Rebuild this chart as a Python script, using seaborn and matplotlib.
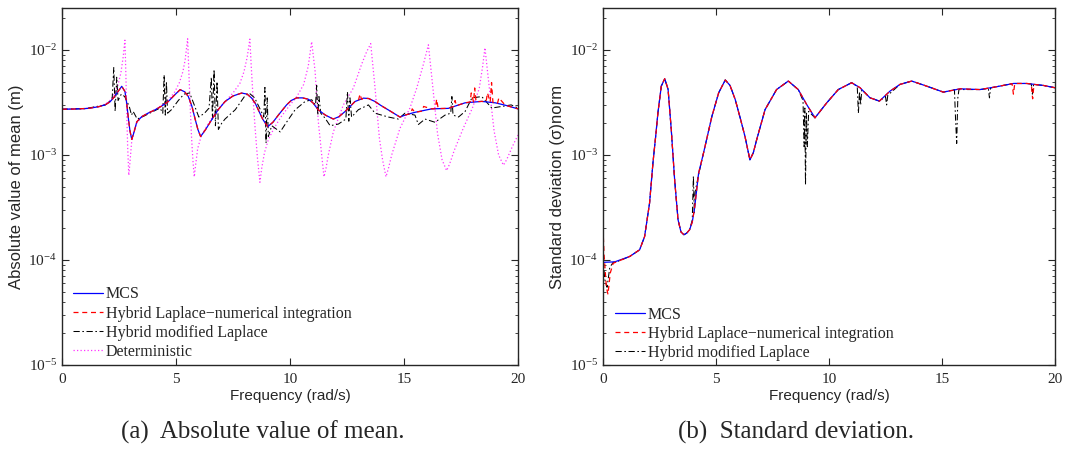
import numpy as np
import pandas as pd
import matplotlib
matplotlib.use("Agg")
import matplotlib.pyplot as plt
import matplotlib.ticker as mticker
import seaborn as sns

# ---------------- data: (a) absolute value of mean, (frequency, value) ----------------
mean_mcs = [(0, 2.73e-3), (0.5, 2.74e-3), (1.16, 2.78e-3), (1.6, 2.88e-3), (1.89, 3.0e-3),
            (2.1, 3.2e-3), (2.25, 3.48e-3), (2.45, 4.0e-3), (2.62, 4.51e-3), (2.76, 4.03e-3),
            (2.84, 3.1e-3), (2.91, 2.24e-3), (2.98, 1.7e-3), (3.06, 1.41e-3), (3.16, 1.65e-3),
            (3.28, 2.07e-3), (3.5, 2.32e-3), (3.8, 2.52e-3), (4.08, 2.69e-3), (4.4, 2.95e-3),
            (4.66, 3.23e-3), (4.95, 3.75e-3), (5.18, 4.19e-3), (5.38, 4.0e-3), (5.54, 3.61e-3),
            (5.7, 2.9e-3), (5.83, 2.24e-3), (5.96, 1.75e-3), (6.08, 1.5e-3), (6.3, 1.75e-3),
            (6.56, 2.16e-3), (6.85, 2.7e-3), (7.15, 3.23e-3), (7.5, 3.65e-3), (7.88, 3.89e-3),
            (8.12, 3.8e-3), (8.32, 3.48e-3), (8.48, 3.1e-3), (8.61, 2.69e-3), (8.8, 2.2e-3),
            (9.02, 1.86e-3), (9.25, 2.05e-3), (9.49, 2.4e-3), (9.85, 3.0e-3), (10.05, 3.3e-3),
            (10.29, 3.5e-3), (10.55, 3.5e-3), (10.8, 3.4e-3), (11.0, 3.15e-3), (11.24, 2.69e-3),
            (11.55, 2.4e-3), (11.9, 2.2e-3), (12.15, 2.32e-3), (12.41, 2.59e-3), (12.85, 3.23e-3),
            (13.22, 3.48e-3), (13.45, 3.45e-3), (13.73, 3.23e-3), (14.0, 2.95e-3), (14.31, 2.69e-3),
            (14.82, 2.3e-3), (15.1, 2.42e-3), (15.48, 2.55e-3), (16.21, 2.75e-3), (16.94, 2.78e-3),
            (17.3, 2.95e-3), (17.68, 3.14e-3), (18.41, 3.24e-3), (19.0, 3.14e-3), (19.44, 2.98e-3),
            (20, 2.75e-3)]

mean_hln = [(0, 2.73e-3), (0.5, 2.74e-3), (1.16, 2.78e-3), (1.6, 2.88e-3), (1.89, 3.0e-3),
            (2.1, 3.2e-3), (2.25, 3.48e-3), (2.45, 4.0e-3), (2.62, 4.51e-3), (2.76, 4.03e-3),
            (2.84, 3.1e-3), (2.91, 2.24e-3), (2.98, 1.7e-3), (3.06, 1.41e-3), (3.16, 1.65e-3),
            (3.28, 2.07e-3), (3.5, 2.32e-3), (3.8, 2.52e-3), (4.08, 2.69e-3), (4.4, 2.95e-3),
            (4.66, 3.23e-3), (4.95, 3.75e-3), (5.18, 4.19e-3), (5.38, 4.0e-3), (5.54, 3.61e-3),
            (5.7, 2.9e-3), (5.83, 2.24e-3), (5.96, 1.75e-3), (6.08, 1.5e-3), (6.3, 1.75e-3),
            (6.56, 2.16e-3), (6.85, 2.7e-3), (7.15, 3.23e-3), (7.5, 3.65e-3), (7.88, 3.89e-3),
            (8.12, 3.8e-3), (8.32, 3.48e-3), (8.48, 3.1e-3), (8.61, 2.69e-3), (8.8, 2.2e-3),
            (9.02, 1.86e-3), (9.25, 2.05e-3), (9.49, 2.4e-3), (9.85, 3.0e-3), (10.05, 3.3e-3),
            (10.29, 3.5e-3), (10.55, 3.5e-3), (10.8, 3.4e-3), (11.0, 3.15e-3), (11.24, 2.69e-3),
            (11.55, 2.4e-3), (11.9, 2.2e-3), (12.15, 2.32e-3), (12.41, 2.59e-3), (12.85, 3.23e-3),
            (13.0, 3.3e-3), (13.07, 3.8e-3), (13.14, 3.38e-3), (13.22, 3.48e-3), (13.45, 3.45e-3),
            (13.73, 3.23e-3), (14.0, 2.95e-3), (14.31, 2.69e-3), (14.82, 2.3e-3), (15.1, 2.42e-3),
            (15.3, 2.48e-3), (15.36, 2.75e-3), (15.48, 2.55e-3), (15.8, 2.62e-3), (15.86, 2.9e-3),
            (16.21, 2.75e-3), (16.38, 2.76e-3), (16.43, 3.4e-3), (16.5, 2.77e-3), (16.94, 2.78e-3),
            (17.18, 2.9e-3), (17.24, 3.3e-3), (17.3, 2.95e-3), (17.68, 3.14e-3), (17.9, 3.2e-3),
            (17.95, 3.9e-3), (18.05, 3.2e-3), (18.1, 4.35e-3), (18.16, 3.22e-3), (18.41, 3.24e-3),
            (18.6, 3.22e-3), (18.66, 3.9e-3), (18.78, 3.2e-3), (18.84, 4.9e-3), (18.9, 3.17e-3),
            (19.0, 3.14e-3), (19.1, 3.1e-3), (19.16, 3.5e-3), (19.44, 2.98e-3), (20, 2.75e-3)]

mean_hml = [(0, 2.73e-3), (1.0, 2.76e-3), (1.9, 3.0e-3), (2.2, 3.4e-3), (2.27, 6.8e-3),
            (2.33, 2.6e-3), (2.4, 5.5e-3), (2.46, 3.3e-3), (2.6, 3.8e-3), (2.75, 3.6e-3),
            (2.95, 2.9e-3), (3.05, 2.4e-3), (3.12, 2.6e-3), (3.3, 2.2e-3), (3.6, 2.35e-3),
            (4.0, 2.6e-3), (4.3, 2.8e-3), (4.42, 2.5e-3), (4.48, 5.8e-3), (4.53, 2.4e-3),
            (4.58, 5.0e-3), (4.63, 2.5e-3), (4.8, 2.7e-3), (5.1, 3.3e-3), (5.35, 3.8e-3),
            (5.6, 3.9e-3), (5.8, 3.0e-3), (6.0, 2.3e-3), (6.25, 2.5e-3), (6.45, 2.8e-3),
            (6.55, 5.5e-3), (6.6, 2.2e-3), (6.67, 6.5e-3), (6.73, 1.9e-3), (6.8, 5.0e-3),
            (6.86, 1.75e-3), (7.0, 2.0e-3), (7.15, 2.2e-3), (7.6, 2.7e-3), (8.0, 3.6e-3),
            (8.2, 3.9e-3), (8.45, 3.5e-3), (8.7, 2.7e-3), (8.85, 2.3e-3), (8.9, 4.4e-3),
            (8.95, 1.3e-3), (9.0, 3.5e-3), (9.05, 1.5e-3), (9.2, 1.9e-3), (9.57, 1.66e-3),
            (9.86, 2.07e-3), (10.22, 2.69e-3), (10.66, 3.23e-3), (10.95, 3.36e-3), (11.12, 3.0e-3),
            (11.17, 4.6e-3), (11.22, 2.4e-3), (11.27, 3.6e-3), (11.35, 2.5e-3), (11.54, 2.24e-3),
            (11.76, 1.9e-3), (12.12, 1.97e-3), (12.45, 2.2e-3), (12.52, 4.0e-3), (12.58, 2.1e-3),
            (12.63, 3.5e-3), (12.7, 2.3e-3), (13.0, 2.7e-3), (13.44, 3.0e-3), (13.73, 2.5e-3),
            (14.31, 2.3e-3), (14.75, 2.2e-3), (15.04, 2.5e-3), (15.48, 2.4e-3), (15.63, 1.95e-3),
            (15.92, 2.2e-3), (16.36, 2.05e-3), (16.8, 2.4e-3), (17.05, 2.5e-3), (17.1, 3.6e-3),
            (17.15, 2.4e-3), (17.39, 2.3e-3), (17.68, 2.6e-3), (17.98, 3.5e-3), (18.41, 3.6e-3),
            (18.85, 2.8e-3), (19.29, 2.9e-3), (19.7, 3.0e-3), (20, 2.8e-3)]

mean_det = [(0, 2.73e-3), (1.0, 2.76e-3), (1.6, 2.9e-3), (1.9, 3.05e-3), (2.1, 3.3e-3),
            (2.3, 3.8e-3), (2.45, 4.6e-3), (2.58, 6.0e-3), (2.68, 8.5e-3), (2.76, 1.24e-2),
            (2.8, 6.0e-3), (2.84, 2.5e-3), (2.88, 1.2e-3), (2.93, 6.4e-4), (2.98, 8.5e-4),
            (3.05, 1.3e-3), (3.15, 1.7e-3), (3.3, 2.05e-3), (3.5, 2.3e-3), (3.8, 2.52e-3),
            (4.1, 2.72e-3), (4.4, 3.0e-3), (4.7, 3.4e-3), (4.95, 4.0e-3), (5.15, 4.9e-3),
            (5.3, 6.2e-3), (5.4, 8.0e-3), (5.51, 1.28e-2), (5.56, 6.5e-3), (5.62, 3.0e-3),
            (5.68, 1.5e-3), (5.74, 9.0e-4), (5.8, 6.2e-4), (5.86, 8.0e-4), (5.95, 1.15e-3),
            (6.1, 1.5e-3), (6.3, 1.8e-3), (6.6, 2.3e-3), (6.9, 2.8e-3), (7.2, 3.3e-3),
            (7.5, 3.9e-3), (7.8, 4.8e-3), (7.98, 6.2e-3), (8.12, 8.5e-3), (8.24, 1.27e-2),
            (8.3, 7.0e-3), (8.38, 3.5e-3), (8.47, 1.8e-3), (8.57, 9.5e-4), (8.68, 5.5e-4),
            (8.76, 7.5e-4), (8.88, 1.05e-3), (9.05, 1.4e-3), (9.3, 1.8e-3), (9.6, 2.3e-3),
            (9.95, 2.9e-3), (10.3, 3.6e-3), (10.6, 4.7e-3), (10.8, 7.0e-3), (10.95, 1.2e-2),
            (11.1, 6.3e-3), (11.24, 2.1e-3), (11.39, 1.0e-3), (11.49, 6.2e-4), (11.58, 7.5e-4),
            (11.68, 1.0e-3), (11.9, 1.66e-3), (12.34, 3.0e-3), (12.78, 4.35e-3), (13.14, 7.3e-3),
            (13.35, 9.5e-3), (13.54, 1.15e-2), (13.73, 4.35e-3), (13.92, 1.45e-3), (14.06, 9.0e-4),
            (14.21, 6.2e-4), (14.32, 7.5e-4), (14.46, 1.0e-3), (14.82, 1.79e-3), (15.26, 2.8e-3),
            (15.56, 4.35e-3), (15.85, 7.3e-3), (16.07, 1.12e-2), (16.27, 4.3e-3), (16.47, 1.6e-3),
            (16.67, 9.0e-4), (16.87, 7.1e-4), (17.0, 8.2e-4), (17.2, 1.1e-3), (17.6, 1.8e-3),
            (18.0, 2.8e-3), (18.3, 4.3e-3), (18.45, 7.0e-3), (18.55, 1.05e-2), (18.75, 4.2e-3),
            (18.95, 1.7e-3), (19.15, 1.0e-3), (19.36, 8.0e-4), (19.5, 9.0e-4), (19.75, 1.2e-3),
            (20, 1.55e-3)]

# ---------------- data: (b) standard deviation, (frequency, value) ----------------
std_mcs = [(0, 9.5e-5), (0.52, 9.6e-5), (1.18, 1.08e-4), (1.62, 1.25e-4), (1.84, 1.67e-4),
           (2.06, 3.48e-4), (2.21, 8.4e-4), (2.33, 1.5e-3), (2.43, 2.52e-3), (2.58, 4.53e-3),
           (2.73, 5.33e-3), (2.88, 4.22e-3), (3.02, 1.75e-3), (3.17, 5.8e-4), (3.32, 2.42e-4),
           (3.45, 1.85e-4), (3.58, 1.74e-4), (3.7, 1.8e-4), (3.83, 1.94e-4), (3.95, 2.3e-4),
           (4.05, 3.1e-4), (4.23, 6.7e-4), (4.45, 1.05e-3), (4.82, 2.34e-3), (5.12, 3.92e-3),
           (5.41, 5.18e-3), (5.62, 4.6e-3), (5.85, 3.38e-3), (6.06, 2.3e-3), (6.28, 1.51e-3),
           (6.5, 9.0e-4), (6.65, 1.05e-3), (6.8, 1.4e-3), (7.17, 2.7e-3), (7.68, 4.2e-3),
           (8.2, 5.06e-3), (8.64, 4.2e-3), (9.01, 3.03e-3), (9.38, 2.26e-3), (9.9, 3.14e-3),
           (10.41, 4.2e-3), (11.0, 4.88e-3), (11.37, 4.38e-3), (11.81, 3.51e-3), (12.23, 3.26e-3),
           (12.7, 4.06e-3), (13.14, 4.7e-3), (13.66, 5.06e-3), (14.32, 4.53e-3), (15.06, 3.97e-3),
           (15.8, 4.27e-3), (16.68, 4.2e-3), (17.42, 4.47e-3), (18.16, 4.8e-3), (18.75, 4.8e-3),
           (19.48, 4.6e-3), (20, 4.37e-3)]

std_hln = [(0, 2.0e-4), (0.05, 1.1e-4), (0.15, 5.5e-5), (0.22, 4.7e-5), (0.32, 7.5e-5),
           (0.45, 9.3e-5), (0.6, 9.6e-5), (1.18, 1.08e-4), (1.62, 1.25e-4), (1.84, 1.67e-4),
           (2.06, 3.48e-4), (2.21, 8.4e-4), (2.33, 1.5e-3), (2.43, 2.52e-3), (2.58, 4.53e-3),
           (2.73, 5.33e-3), (2.88, 4.22e-3), (3.02, 1.75e-3), (3.17, 5.8e-4), (3.32, 2.42e-4),
           (3.45, 1.85e-4), (3.58, 1.74e-4), (3.7, 1.8e-4), (3.83, 1.94e-4), (3.95, 2.3e-4),
           (4.05, 3.1e-4), (4.23, 6.7e-4), (4.45, 1.05e-3), (4.82, 2.34e-3), (5.12, 3.92e-3),
           (5.41, 5.18e-3), (5.62, 4.6e-3), (5.85, 3.38e-3), (6.06, 2.3e-3), (6.28, 1.51e-3),
           (6.5, 9.0e-4), (6.65, 1.05e-3), (6.8, 1.4e-3), (7.17, 2.7e-3), (7.68, 4.2e-3),
           (8.2, 5.06e-3), (8.64, 4.2e-3), (9.01, 3.03e-3), (9.38, 2.26e-3), (9.9, 3.14e-3),
           (10.41, 4.2e-3), (11.0, 4.88e-3), (11.37, 4.38e-3), (11.81, 3.51e-3), (12.23, 3.26e-3),
           (12.7, 4.06e-3), (13.14, 4.7e-3), (13.66, 5.06e-3), (14.32, 4.53e-3), (15.06, 3.97e-3),
           (15.8, 4.27e-3), (16.68, 4.2e-3), (17.42, 4.47e-3), (18.1, 4.78e-3), (18.16, 3.8e-3),
           (18.22, 4.8e-3), (18.75, 4.8e-3), (18.95, 4.75e-3), (19.01, 3.43e-3), (19.07, 4.7e-3),
           (19.48, 4.6e-3), (20, 4.37e-3)]

std_hml = [(0, 1.05e-4), (0.08, 6.5e-5), (0.18, 5.5e-5), (0.3, 8.5e-5), (0.45, 9.5e-5),
           (0.6, 9.6e-5), (1.18, 1.08e-4), (1.62, 1.25e-4), (1.84, 1.67e-4), (2.06, 3.48e-4),
           (2.21, 8.4e-4), (2.33, 1.5e-3), (2.43, 2.52e-3), (2.58, 4.53e-3), (2.73, 5.33e-3),
           (2.88, 4.22e-3), (3.02, 1.75e-3), (3.17, 5.8e-4), (3.32, 2.42e-4), (3.45, 1.85e-4),
           (3.58, 1.74e-4), (3.7, 1.8e-4), (3.83, 1.94e-4), (3.95, 2.4e-4), (4.0, 6.3e-4),
           (4.04, 2.8e-4), (4.08, 4.5e-4), (4.23, 6.5e-4), (4.45, 1.05e-3), (4.82, 2.34e-3),
           (5.12, 3.92e-3), (5.41, 5.18e-3), (5.62, 4.6e-3), (5.85, 3.38e-3), (6.06, 2.3e-3),
           (6.28, 1.51e-3), (6.5, 9.0e-4), (6.65, 1.05e-3), (6.8, 1.4e-3), (7.17, 2.7e-3),
           (7.68, 4.2e-3), (8.2, 5.06e-3), (8.64, 4.2e-3), (8.85, 3.3e-3), (8.9, 1.2e-3),
           (8.93, 2.8e-3), (8.96, 5.2e-4), (9.0, 2.5e-3), (9.04, 1.2e-3), (9.1, 2.6e-3),
           (9.38, 2.26e-3), (9.9, 3.14e-3), (10.41, 4.2e-3), (11.0, 4.88e-3), (11.25, 4.5e-3),
           (11.3, 2.5e-3), (11.35, 4.0e-3), (11.4, 3.0e-3), (11.45, 4.2e-3), (11.81, 3.51e-3),
           (12.23, 3.26e-3), (12.5, 3.6e-3), (12.55, 3.0e-3), (12.6, 3.7e-3), (13.14, 4.7e-3),
           (13.66, 5.06e-3), (14.32, 4.53e-3), (15.06, 3.97e-3), (15.55, 4.2e-3), (15.6, 2.2e-3),
           (15.65, 1.29e-3), (15.7, 3.5e-3), (15.75, 4.2e-3), (16.68, 4.2e-3), (17.05, 4.3e-3),
           (17.1, 3.5e-3), (17.15, 4.35e-3), (17.42, 4.47e-3), (18.16, 4.8e-3), (18.75, 4.8e-3),
           (18.95, 4.75e-3), (19.0, 3.8e-3), (19.05, 4.7e-3), (19.48, 4.6e-3), (20, 4.37e-3)]

x_ticks = [0, 5, 10, 15, 20]
labels_a = ["MCS", "Hybrid Laplace\u2212numerical integration", "Hybrid modified Laplace", "Deterministic"]
labels_b = ["MCS", "Hybrid Laplace\u2212numerical integration", "Hybrid modified Laplace"]
caption_a = "(a)  Absolute value of mean."
caption_b = "(b)  Standard deviation."
ylabel_a = "Absolute value of mean (m)"
ylabel_b = "Standard deviation (\u03c3)norm"
xlabel = "Frequency (rad/s)"

# ---------------- style ----------------
sns.set_style("ticks")
plt.rcParams["font.family"] = ["Liberation Serif", "DejaVu Serif"]
plt.rcParams["mathtext.fontset"] = "custom"
plt.rcParams["mathtext.rm"] = "Liberation Serif"
plt.rcParams["mathtext.it"] = "Liberation Serif:italic"
plt.rcParams["axes.linewidth"] = 1.0

SANS = ["Liberation Sans", "DejaVu Sans"]

fig = plt.figure(figsize=(10.66, 4.5), dpi=100)
ax1 = fig.add_axes([62 / 1066, 85 / 450, 456 / 1066, 357 / 450])
ax2 = fig.add_axes([603 / 1066, 85 / 450, 452 / 1066, 357 / 450])

# colour, dash pattern, width, zorder
styles = [("#0000ff", "-", 0.9, 2.2),
          ("#ff0000", (0, (4, 3)), 0.9, 2.4),
          ("#000000", (0, (6, 2.5, 1.5, 2.5)), 0.75, 2.0),
          ("#ff33ff", (0, (1, 1.8)), 0.9, 1.8)]

series_a = [mean_mcs, mean_hln, mean_hml, mean_det]
series_b = [std_mcs, std_hln, std_hml]

for ax, series, labels in [(ax1, series_a, labels_a), (ax2, series_b, labels_b)]:
    for pts, lab, (col, ls, lw, zo) in zip(series, labels, styles):
        df = pd.DataFrame(pts, columns=["f", "v"])
        sns.lineplot(data=df, x="f", y="v", ax=ax, color=col, linestyle=ls, linewidth=lw,
                     zorder=zo, label=lab, estimator=None, sort=False)
    ax.set_yscale("log")
    ax.set_xlim(0, 20)
    ax.set_ylim(1e-5, 10 ** -1.6)
    ax.set_xticks(x_ticks)
    ax.yaxis.set_major_locator(mticker.LogLocator(base=10, numticks=10))
    ax.yaxis.set_minor_locator(mticker.LogLocator(base=10, subs=np.arange(2, 10), numticks=20))
    ax.yaxis.set_minor_formatter(mticker.NullFormatter())
    ax.tick_params(which="both", direction="in", top=True, right=True, labelsize=11)
    ax.tick_params(axis="x", which="major", pad=6)
    ax.tick_params(which="major", length=5, width=0.8)
    ax.tick_params(which="minor", length=2.5, width=0.6)
    ax.set_xlabel(xlabel, family=SANS, fontsize=11, labelpad=2)
    for s in ax.spines.values():
        s.set_linewidth(1.0)

leg_kw = dict(loc="lower left", frameon=False, fontsize=11.5, handlelength=1.9,
              handletextpad=0.15, labelspacing=0.2, borderaxespad=0.0, borderpad=0.0)
ax1.legend(bbox_to_anchor=(11 / 456, 5 / 357), **leg_kw)
ax2.legend(bbox_to_anchor=(12 / 452, 4 / 357), **leg_kw)

ax1.set_ylabel(ylabel_a, family=SANS, fontsize=12, labelpad=3)
ax2.set_ylabel(ylabel_b, family=SANS, fontsize=12, labelpad=3)

fig.text(263 / 1066, 1 - 432 / 450, caption_a, ha="center", va="center", fontsize=18)
fig.text(796 / 1066, 1 - 432 / 450, caption_b, ha="center", va="center", fontsize=18)

fig.savefig("out.png", dpi=100)
